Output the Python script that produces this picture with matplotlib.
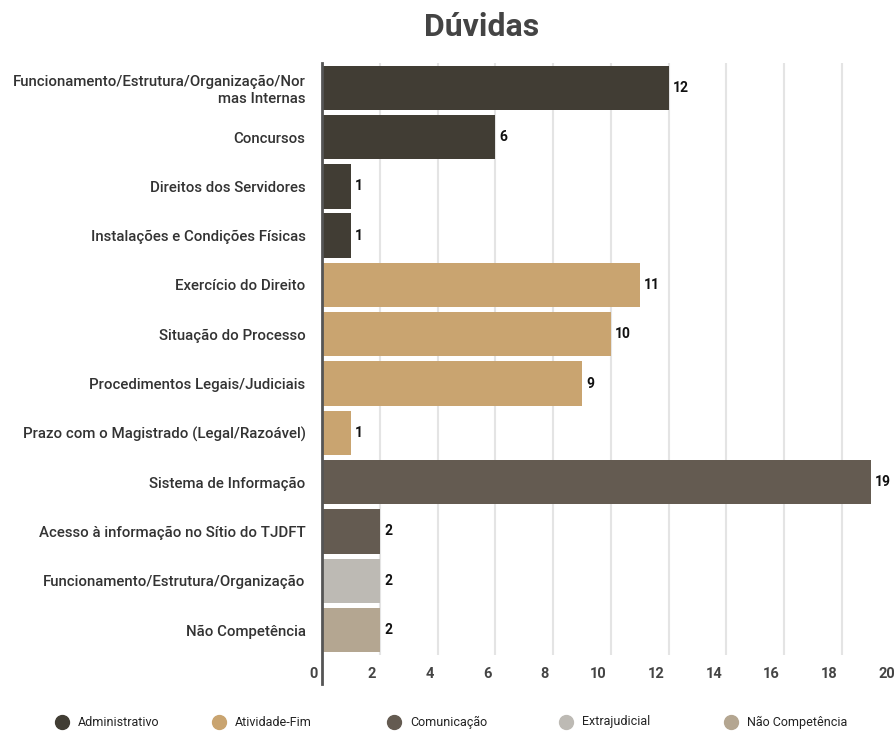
import matplotlib
matplotlib.use("Agg")
import matplotlib.pyplot as plt
from matplotlib.transforms import ScaledTranslation

plt.rcParams['font.family'] = ['Roboto', 'DejaVu Sans']

categories = [
    "Funcionamento/Estrutura/Organização/Nor\nmas Internas",
    "Concursos",
    "Direitos dos Servidores",
    "Instalações e Condições Físicas",
    "Exercício do Direito",
    "Situação do Processo",
    "Procedimentos Legais/Judiciais",
    "Prazo com o Magistrado (Legal/Razoável)",
    "Sistema de Informação",
    "Acesso à informação no Sítio do TJDFT",
    "Funcionamento/Estrutura/Organização",
    "Não Competência",
]
values = [12, 6, 1, 1, 11, 10, 9, 1, 19, 2, 2, 2]
groups = ["Administrativo"] * 4 + ["Atividade-Fim"] * 4 + ["Comunicação"] * 2 + ["Extrajudicial", "Não Competência"]

group_names = ["Administrativo", "Atividade-Fim", "Comunicação", "Extrajudicial", "Não Competência"]
group_colors = {
    "Administrativo": "#413d34",
    "Atividade-Fim": "#c9a470",
    "Comunicação": "#645b51",
    "Extrajudicial": "#bdbab4",
    "Não Competência": "#b4a691",
}
xticks = list(range(0, 21, 2))

fig = plt.figure(figsize=(8.95, 7.34), dpi=100)
ax = fig.add_axes([0.360, 0.108, 0.645, 0.806])

ypos = list(range(len(categories)))
colors = [group_colors[g] for g in groups]
ax.barh(ypos, values, height=0.9, color=colors, zorder=3)
ax.set_ylim(len(categories) - 0.5, -0.5)
ax.set_xlim(0, 20)

# value labels at bar ends
for y, v in zip(ypos, values):
    ax.annotate(str(v), (v, y), xytext=(3, 0), textcoords="offset points",
                va="center", ha="left", fontsize=10, fontweight="bold", color="#111111")

ax.set_yticks(ypos)
ax.set_yticklabels(categories, fontsize=10.8, fontweight="medium", color="#333333")
ax.tick_params(axis="y", length=0, pad=12)

ax.set_xticks(xticks)
ax.set_xticklabels([str(t) for t in xticks], fontsize=10.5, fontweight="bold", color="#444444", ha="right")
ax.tick_params(axis="x", length=0, pad=9)
offset = ScaledTranslation(-4 / 100, 0, fig.dpi_scale_trans)
for lab in ax.get_xticklabels():
    lab.set_transform(lab.get_transform() + offset)

ax.grid(axis="x", color="#e4e4e4", linewidth=1.5, zorder=0)
for s in ["top", "right", "bottom"]:
    ax.spines[s].set_visible(False)
ax.spines["left"].set_color("#555555")
ax.spines["left"].set_linewidth(2)
ax.spines["left"].set_zorder(4)
ax.spines["left"].set_bounds(-0.5, len(categories) - 0.5 + 0.6)
ax.spines["left"].set_clip_on(False)

fig.text(0.538, 0.963, "Dúvidas", ha="center", va="center", fontsize=23, fontweight="bold", color="#444444")

# legend entries placed along the bottom
legend_x = [62, 219, 394, 566, 731]
legend_y = 1 - 722 / 734
for lx, g in zip(legend_x, group_names):
    fig.lines.append(plt.Line2D([lx / 895], [legend_y], marker="o", markersize=10, linestyle="",
                                markerfacecolor=group_colors[g], markeredgecolor=group_colors[g],
                                transform=fig.transFigure))
    fig.text((lx + 16) / 895, legend_y, g, ha="left", va="center", fontsize=9, color="#222222")

fig.savefig("out.png", dpi=100)
